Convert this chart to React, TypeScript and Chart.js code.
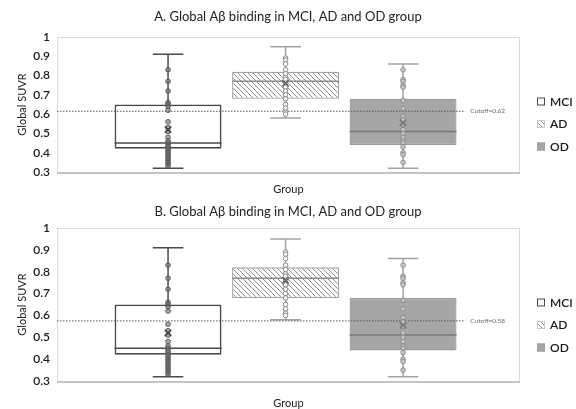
import React, { useEffect, useRef } from "react";
import { Chart, registerables } from "chart.js";

Chart.register(...registerables);

// ---------- data ----------
const groups = ["MCI", "AD", "OD"];
const groupX = [1, 2, 3];
const whiskerLow = [0.32, 0.58, 0.32];
const q1 = [0.42, 0.68, 0.44];
const medians = [0.45, 0.77, 0.51];
const q3 = [0.65, 0.82, 0.68];
const whiskerHigh = [0.91, 0.95, 0.86];
const means = [0.52, 0.76, 0.555];
const mciPoints = [0.83, 0.77, 0.72, 0.66, 0.65, 0.64, 0.62, 0.56, 0.53, 0.51, 0.48, 0.46, 0.45, 0.44, 0.43, 0.42, 0.41, 0.4, 0.39, 0.38, 0.37, 0.36, 0.35, 0.34, 0.33];
const adPoints = [0.89, 0.88, 0.86, 0.83, 0.81, 0.79, 0.78, 0.76, 0.74, 0.72, 0.7, 0.68, 0.65, 0.63, 0.61, 0.6];
const odPoints = [0.83, 0.78, 0.77, 0.75, 0.74, 0.67, 0.63, 0.59, 0.57, 0.55, 0.52, 0.5, 0.48, 0.46, 0.45, 0.43, 0.4, 0.39, 0.35];
const groupPoints = [mciPoints, adPoints, odPoints];
const panelTitles = [
  "A. Global A\u03b2 binding in MCI, AD and OD group",
  "B. Global A\u03b2 binding in MCI, AD and OD group",
];
const cutoffValues = [0.615, 0.575];
const cutoffLabels = ["Cutoff=0.62", "Cutoff=0.58"];
const cutoffEndX = 3.53;
const xMin = 0.055;
const xMax = 3.995;
const yMin = 0.3;
const yMax = 1;
const yStep = 0.1;
const yTitle = "Global SUVR";
const xTitle = "Group";

// ---------- styles ----------
const FONT = "Lato, 'Open Sans', sans-serif";
const boxLine = ["#4a4a4a", "#a3a3a3", "#9a9a9a"];
const medianLine = ["#4a4a4a", "#8c8c8c", "#7a7a7a"];
const whiskerLine = ["#4a4a4a", "#a3a3a3", "#a3a3a3"];
const pointBorder = ["#555555", "#8a8a8a", "#8a8a8a"];
const pointFill = ["rgba(120,120,120,0.6)", "rgba(255,255,255,0.9)", "rgba(200,200,200,0.9)"];
const meanColor = ["#444444", "#666666", "#777777"];
const boxWidthUnits = 0.91;
const capHalfUnits = 0.13;

function makeHatch(): CanvasPattern {
  const s = 5;
  const c = document.createElement("canvas");
  c.width = s;
  c.height = s;
  const g = c.getContext("2d")!;
  g.fillStyle = "#ffffff";
  g.fillRect(0, 0, s, s);
  g.strokeStyle = "#8e8e8e";
  g.lineWidth = 1;
  g.beginPath();
  g.moveTo(-1, -1);
  g.lineTo(s + 1, s + 1);
  g.moveTo(-1, s - 1);
  g.lineTo(1, s + 1);
  g.moveTo(s - 1, -1);
  g.lineTo(s + 1, 1);
  g.stroke();
  return g.createPattern(c, "repeat")!;
}

const boxExtras = {
  id: "boxExtras",
  beforeDatasetsDraw(chart: any) {
    const { ctx, chartArea: a } = chart;
    ctx.save();
    ctx.strokeStyle = "#dadada";
    ctx.lineWidth = 1;
    ctx.strokeRect(a.left + 0.5, a.top + 0.5, a.right - a.left - 1, a.bottom - a.top);
    ctx.strokeStyle = "#c4c4c4";
    ctx.lineWidth = 2;
    ctx.beginPath();
    ctx.moveTo(a.left, a.bottom + 1);
    ctx.lineTo(a.right, a.bottom + 1);
    ctx.stroke();
    ctx.restore();
  },
  afterDatasetDraw(chart: any, args: any) {
    if (args.index !== 0) return;
    const { ctx } = chart;
    const xs = chart.scales.x;
    const ys = chart.scales.y;
    groups.forEach((_, i) => {
      const bar = args.meta.data[i];
      const cx = xs.getPixelForValue(groupX[i]);
      const capL = xs.getPixelForValue(groupX[i] - capHalfUnits);
      const capR = xs.getPixelForValue(groupX[i] + capHalfUnits);
      const yHi = ys.getPixelForValue(whiskerHigh[i]);
      const yLo = ys.getPixelForValue(whiskerLow[i]);
      const yQ1 = ys.getPixelForValue(q1[i]);
      const yQ3 = ys.getPixelForValue(q3[i]);
      const yMed = ys.getPixelForValue(medians[i]);
      ctx.save();
      ctx.strokeStyle = whiskerLine[i];
      ctx.lineWidth = 1.5;
      ctx.beginPath();
      ctx.moveTo(cx, yHi);
      ctx.lineTo(cx, yQ3);
      ctx.moveTo(cx, yQ1);
      ctx.lineTo(cx, yLo);
      ctx.moveTo(capL, yHi);
      ctx.lineTo(capR, yHi);
      ctx.moveTo(capL, yLo);
      ctx.lineTo(capR, yLo);
      ctx.stroke();
      ctx.strokeStyle = medianLine[i];
      ctx.beginPath();
      ctx.moveTo(bar.x - bar.width / 2, yMed);
      ctx.lineTo(bar.x + bar.width / 2, yMed);
      ctx.stroke();
      ctx.restore();
    });
  },
  afterDraw(chart: any, _args: any, opts: any) {
    const { ctx, chartArea: a } = chart;
    const cutMeta = chart.getDatasetMeta(1);
    const endPt = cutMeta.data[cutMeta.data.length - 1];
    ctx.save();
    ctx.fillStyle = "#666666";
    ctx.font = `6.5px ${FONT}`;
    ctx.textAlign = "left";
    ctx.textBaseline = "middle";
    ctx.fillText(opts.cutoffLabel, endPt.x + 5, endPt.y);
    const fills = ["#ffffff", opts.hatch, "#a6a6a6"];
    const borders = ["#4a4a4a", "#c8c8c8", "#a0a0a0"];
    const lx = a.right + 17;
    groups.forEach((g, i) => {
      const cy = opts.legendY + (i - 1) * 22.5;
      ctx.fillStyle = fills[i];
      ctx.fillRect(lx, cy - 4, 8, 8);
      ctx.strokeStyle = borders[i];
      ctx.lineWidth = 1;
      ctx.strokeRect(lx + 0.5, cy - 3.5, 7, 7);
      ctx.fillStyle = "#1a1a1a";
      ctx.font = `600 12px ${FONT}`;
      ctx.textBaseline = "middle";
      ctx.fillText(g, lx + 13, cy + 0.5);
    });
    ctx.restore();
  },
};

type PanelProps = {
  index: number;
  height: number;
  titlePad: { top: number; bottom: number };
  xTitlePad: { top: number; bottom: number };
  legendY: number;
};

function Panel({ index, height, titlePad, xTitlePad, legendY }: PanelProps) {
  const ref = useRef<HTMLCanvasElement>(null);
  useEffect(() => {
    const hatch = makeHatch();
    const cutoff = cutoffValues[index];
    const datasets: any[] = [
      {
        type: "bar",
        label: "Boxes",
        data: groups.map((_, i) => ({ x: groupX[i], y: [q1[i], q3[i]] })),
        backgroundColor: ["#ffffff", hatch, "#a6a6a6"],
        borderColor: boxLine,
        borderWidth: [1.8, 1.3, 1.3],
        borderSkipped: false,
        categoryPercentage: 1,
        barPercentage: boxWidthUnits,
        order: 10,
      },
      {
        type: "line",
        label: "Cutoff",
        data: [
          { x: xMin, y: cutoff },
          { x: cutoffEndX, y: cutoff },
        ],
        borderColor: "#555555",
        borderWidth: 1,
        borderDash: [1.5, 1.5],
        pointRadius: 0,
        order: 5,
      },
    ];
    groups.forEach((g, i) => {
      datasets.push({
        type: "scatter",
        label: g + " points",
        data: groupPoints[i].map((v) => ({ x: groupX[i], y: v })),
        pointRadius: 2.3,
        pointBorderWidth: 1,
        pointBorderColor: pointBorder[i],
        pointBackgroundColor: pointFill[i],
        order: 3,
      });
    });
    datasets.push({
      type: "scatter",
      label: "Means",
      data: groups.map((_, i) => ({ x: groupX[i], y: means[i] })),
      pointStyle: "crossRot",
      pointRadius: 4.5,
      pointBorderWidth: 1.6,
      pointBorderColor: meanColor,
      order: 1,
    });

    const chart = new Chart(ref.current!, {
      type: "bar",
      data: { datasets },
      plugins: [boxExtras],
      options: {
        responsive: false,
        animation: false,
        devicePixelRatio: 1,
        layout: { padding: 0 },
        plugins: {
          legend: { display: false },
          tooltip: { enabled: false },
          title: {
            display: true,
            text: panelTitles[index],
            color: "#222222",
            font: { family: FONT, size: 13, weight: "normal" },
            padding: titlePad,
          },
          boxExtras: { cutoffLabel: cutoffLabels[index], legendY, hatch },
        } as any,
        scales: {
          x: {
            type: "linear",
            min: xMin,
            max: xMax,
            offset: false,
            afterBuildTicks: (scale: any) => {
              scale.ticks = groupX.map((v) => ({ value: v }));
            },
            ticks: { display: false },
            grid: { display: false, drawTicks: false },
            border: { display: false },
            title: {
              display: true,
              text: xTitle,
              color: "#222222",
              font: { family: FONT, size: 11, lineHeight: 1 },
              padding: xTitlePad,
            },
          },
          y: {
            type: "linear",
            position: "left",
            min: yMin,
            max: yMax,
            afterFit: (scale: any) => {
              scale.width = 57;
            },
            ticks: {
              stepSize: yStep,
              padding: 7,
              color: "#1a1a1a",
              font: { family: FONT, size: 12, weight: "600" },
              callback: (v: any) => String(Math.round(Number(v) * 10) / 10),
            },
            grid: { display: false, drawTicks: false },
            border: { display: false },
            title: {
              display: true,
              text: yTitle,
              color: "#222222",
              font: { family: FONT, size: 11, lineHeight: 1 },
              padding: { top: 16.5, bottom: 4 },
            },
          },
          legendSpace: {
            type: "linear",
            position: "right",
            display: true,
            afterFit: (scale: any) => {
              scale.width = 56;
            },
            ticks: { display: false },
            grid: { display: false, drawTicks: false },
            border: { display: false },
          },
        },
      } as any,
    });
    return () => chart.destroy();
  }, []);
  return (
    <canvas
      ref={ref}
      width={576}
      height={height}
      style={{ display: "block", width: 576, height }}
    />
  );
}

export default function App() {
  useEffect(() => {
    document.body.style.margin = "0";
  }, []);
  return (
    <div style={{ width: 576, height: 409, background: "#ffffff", overflow: "hidden" }}>
      <Panel index={0} height={196} titlePad={{ top: 9.2, bottom: 12.2 }} xTitlePad={{ top: 11.5, bottom: 1.5 }} legendY={124} />
      <Panel index={1} height={213} titlePad={{ top: 8.2, bottom: 8.2 }} xTitlePad={{ top: 17, bottom: 0 }} legendY={129} />
    </div>
  );
}
